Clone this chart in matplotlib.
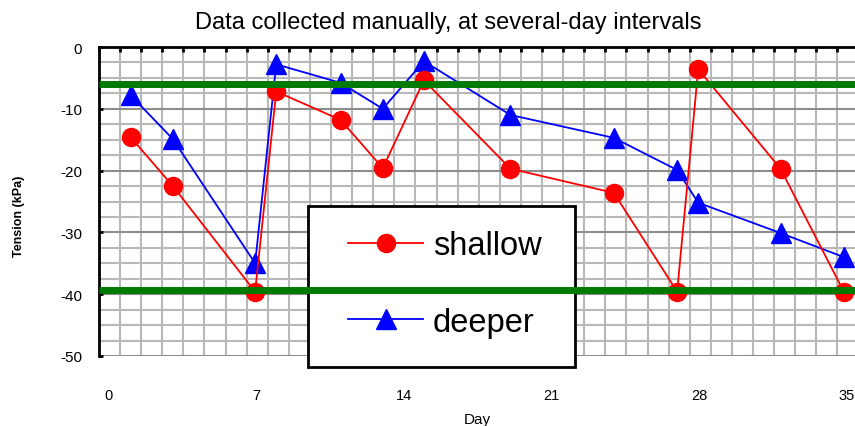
import numpy as np
import matplotlib.pyplot as plt
import matplotlib.transforms as mtransforms
from matplotlib.patches import Rectangle
from matplotlib.ticker import MultipleLocator

plt.rcParams["font.family"] = ["Liberation Sans", "DejaVu Sans"]
plt.rcParams["axes.unicode_minus"] = False

# readings (day, tension in kPa)
days = [1.5, 3.5, 7.4, 8.4, 11.45, 13.45, 15.4, 19.5, 24.4, 27.4, 28.4, 32.3, 35.3]
shallow = [-14.6, -22.5, -39.6, -7.2, -11.8, -19.6, -5.4, -19.7, -23.6, -39.6, -3.6, -19.7, -39.6]
deeper = [-7.8, -14.9, -35.0, -2.8, -5.8, -10.0, -2.3, -11.0, -14.7, -19.9, -25.2, -30.1, -34.0]

# reference limits
upper_limit = -6.0
lower_limit = -39.3

x_ticks = [0, 7, 14, 21, 28, 35]
y_ticks = [0, -10, -20, -30, -40, -50]

fig = plt.figure(figsize=(8.55, 4.27), dpi=100)
ax = fig.add_axes([99 / 855, 70 / 427, 756 / 855, 309 / 427])

ax.set_xlim(0, 35.83)
ax.set_ylim(-50, 0)

# grid
ax.xaxis.set_minor_locator(MultipleLocator(1))
ax.yaxis.set_minor_locator(MultipleLocator(2.5))
ax.set_xticks(x_ticks)
ax.set_yticks(y_ticks)
ax.grid(True, which="minor", color="#b8b8b8", lw=1.5, zorder=0)
ax.grid(True, which="major", axis="x", color="#b8b8b8", lw=1.5, zorder=0)
ax.grid(True, which="major", axis="y", color="#8c8c8c", lw=1.5, zorder=0)
ax.set_axisbelow(True)

for s in ["bottom", "right"]:
    ax.spines[s].set_visible(False)
for s in ["left", "top"]:
    ax.spines[s].set_linewidth(2)
    ax.spines[s].set_color("black")

ax.tick_params(axis="x", which="both", top=True, bottom=False, labeltop=False,
               labelbottom=True, direction="in", length=3.5, width=2, pad=23,
               labelsize=10.5)
ax.tick_params(axis="y", which="major", left=True, direction="in", length=3,
               width=2, pad=12, labelsize=11)
ax.tick_params(axis="y", which="minor", left=False)

# shift x labels slightly right as in the original
offset = mtransforms.ScaledTranslation(0.095, 0, fig.dpi_scale_trans)
for lab in ax.get_xticklabels():
    lab.set_transform(lab.get_transform() + offset)

h_de, = ax.plot(days, deeper, color="blue", lw=1.3, marker="^", ms=14,
                label="deeper", zorder=3)
h_sh, = ax.plot(days, shallow, color="red", lw=1.3, marker="o", ms=13,
                label="shallow", zorder=4)

ax.axhline(upper_limit, color="#007a00", lw=5, zorder=7, clip_on=False,
           solid_capstyle="butt")
ax.axhline(lower_limit, color="#007a00", lw=5, zorder=7, clip_on=False,
           solid_capstyle="butt")

# legend box drawn separately so its padding matches the original
box = Rectangle((308 / 855, 1 - 368 / 427), 267 / 855, 161 / 427,
                transform=fig.transFigure, facecolor="white", edgecolor="black",
                lw=2, zorder=5.5, clip_on=False)
ax.add_patch(box)

leg = ax.legend(handles=[h_sh, h_de], loc="upper left",
                bbox_to_anchor=(348 / 855, 1 - 231 / 427),
                bbox_transform=fig.transFigure, fontsize=23.5, frameon=False,
                handlelength=2.3, handletextpad=0.3, labelspacing=1.4,
                borderpad=0, borderaxespad=0)
leg.set_zorder(6)

ax.set_xlabel("Day", fontsize=11, labelpad=7)
ax.set_ylabel("Tension (kPa)", fontsize=9, fontweight="bold")
ax.yaxis.set_label_coords(-0.098, 0.456)

fig.text(448 / 855, 1 - 23 / 427, "Data collected manually, at several-day intervals",
         ha="center", va="center", fontsize=17)

fig.savefig("out.png", dpi=100)
